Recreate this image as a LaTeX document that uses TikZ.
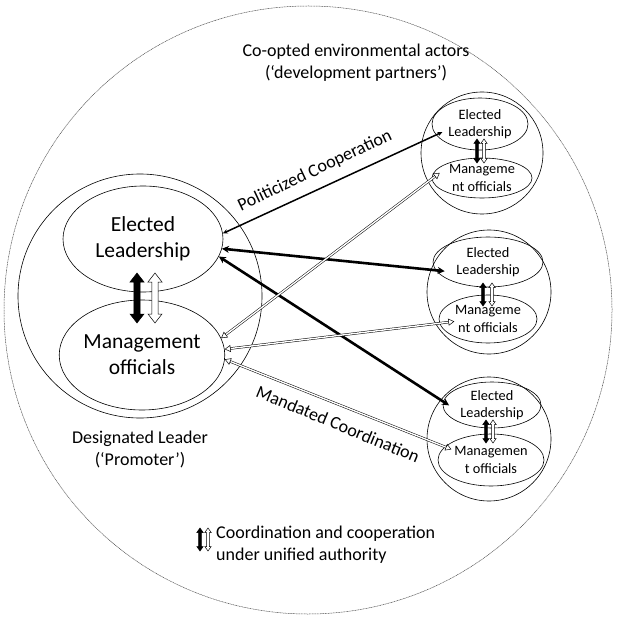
\documentclass[tikz,border=0pt]{standalone}
\usepackage{fontspec}
\setmainfont{Carlito}
\usetikzlibrary{arrows.meta,shapes.geometric,calc}
\newcommand{\vblockarrow}[7]{\draw[#7] (#1-#4,#2+#6) -- (#1-#5,#2+#6) -- (#1,#2) -- (#1+#5,#2+#6) -- (#1+#4,#2+#6) -- (#1+#4,#3-#6) -- (#1+#5,#3-#6) -- (#1,#3) -- (#1-#5,#3-#6) -- (#1-#4,#3-#6) -- cycle;}
\tikzset{
  bigell/.style={draw, ellipse, line width=0.6pt, inner sep=0pt, align=center, font=\fontsize{21.5}{26}\selectfont},
  smallell/.style={draw, ellipse, line width=0.6pt, inner sep=0pt, align=center, font=\fontsize{14.3}{17.5}\selectfont},
  ring/.style={draw, circle, line width=0.6pt, inner sep=0pt},
  worldring/.style={draw=black!70, circle, line width=0.5pt, inner sep=0pt, dash pattern=on 1pt off 0.6pt},
  lbl/.style={font=\fontsize{18}{22}\selectfont, align=center, inner sep=0pt},
  polarrow/.style={line width=1.5pt, {Stealth[length=5pt,width=4.5pt]}-{Stealth[length=5pt,width=4.5pt]}},
  thickarrow/.style={line width=2.6pt, {Stealth[length=7pt,width=7pt]}-{Stealth[length=7pt,width=7pt]}},
  hollowarrow/.style={double, double distance=1.4pt, line width=0.5pt, {Triangle[open,length=6pt,width=7pt]}-{Triangle[open,length=6pt,width=7pt]}},
  blackblock/.style={fill=black, draw=black, line width=0.5pt},
  whiteblock/.style={fill=white, draw=black, line width=0.5pt},
}
\begin{document}
\begin{tikzpicture}[x=1pt,y=-1pt]
\useasboundingbox (0,0) rectangle (616,617);
% outer environment
\node[worldring, minimum size=608pt] (world) at (308,310) {};
\node[lbl] (coopt) at (356,63) {Co-opted environmental actors\\(`development partners')};
% designated leader
\node[ring, minimum size=244pt] (DL) at (140,296) {};
\node[bigell, minimum width=160pt, minimum height=106pt] (EL) at (143,239) {Elected\\Leadership};
\node[bigell, minimum width=164pt, minimum height=110pt] (MO) at (142,355) {Management\\officials};
\node[lbl] (dltext) at (140,449) {Designated Leader\\(`Promoter')};
\vblockarrow{137}{273}{323}{3.2}{7}{9}{blackblock}
\vblockarrow{155}{273}{323}{3.2}{7}{9}{whiteblock}
% group 1
\node[ring, minimum size=122pt] (G1) at (482,153) {};
\node[smallell, minimum width=96pt, minimum height=52pt] (T1E) at (480,124) {Elected\\Leadership};
\node[smallell, minimum width=100pt, minimum height=40pt] (T1M) at (482,178) {Manageme\\nt officials};
\vblockarrow{477}{139}{163}{1.4}{3.2}{4.5}{blackblock}
\vblockarrow{484}{139}{163}{1.4}{3.2}{4.5}{whiteblock}
% group 2
\node[ring, minimum size=124pt] (G2) at (489,292) {};
\node[smallell, minimum width=110pt, minimum height=50pt] (T2E) at (488,262) {Elected\\Leadership};
\node[smallell, minimum width=98pt, minimum height=48pt] (T2M) at (488,319) {Manageme\\nt officials};
\vblockarrow{483}{283}{306}{1.4}{3.2}{4.5}{blackblock}
\vblockarrow{492}{283}{306}{1.4}{3.2}{4.5}{whiteblock}
% group 3
\node[ring, minimum size=124pt] (G3) at (489,439) {};
\node[smallell, minimum width=98pt, minimum height=46pt] (T3E) at (492,405) {Elected\\Leadership};
\node[smallell, minimum width=106pt, minimum height=52pt] (T3M) at (491,460) {Managemen\\t officials};
\vblockarrow{486}{420}{443}{1.4}{3.2}{4.5}{blackblock}
\vblockarrow{493}{420}{443}{1.4}{3.2}{4.5}{whiteblock}
% connectors
\draw[polarrow, shorten >=-7pt] (EL.4) -- (T1E.194);
\draw[thickarrow, shorten >=-9pt] (EL.-7) -- (T2E.189);
\draw[thickarrow, shorten >=-7pt] (EL.-13) -- (T3E.176);
\draw[hollowarrow, shorten >=-10pt] (MO.12) -- (T1M.181);
\draw[hollowarrow, shorten >=-15pt] (MO.4) -- (T2M.185);
\draw[hollowarrow, shorten >=-7pt] (MO.-3) -- (T3M.164);
\node[lbl, rotate=25.3] (pclabel) at (315,171) {Politicized Cooperation};
\node[lbl, rotate=-22.5] (mclabel) at (338,424) {Mandated Coordination};
% legend
\vblockarrow{200}{528}{551}{1.4}{3.2}{4.5}{blackblock}
\vblockarrow{208}{528}{551}{1.4}{3.2}{4.5}{whiteblock}
\node[lbl, align=left, anchor=west] (legend) at (216,545) {Coordination and cooperation\\under unified authority};
\end{tikzpicture}
\end{document}
